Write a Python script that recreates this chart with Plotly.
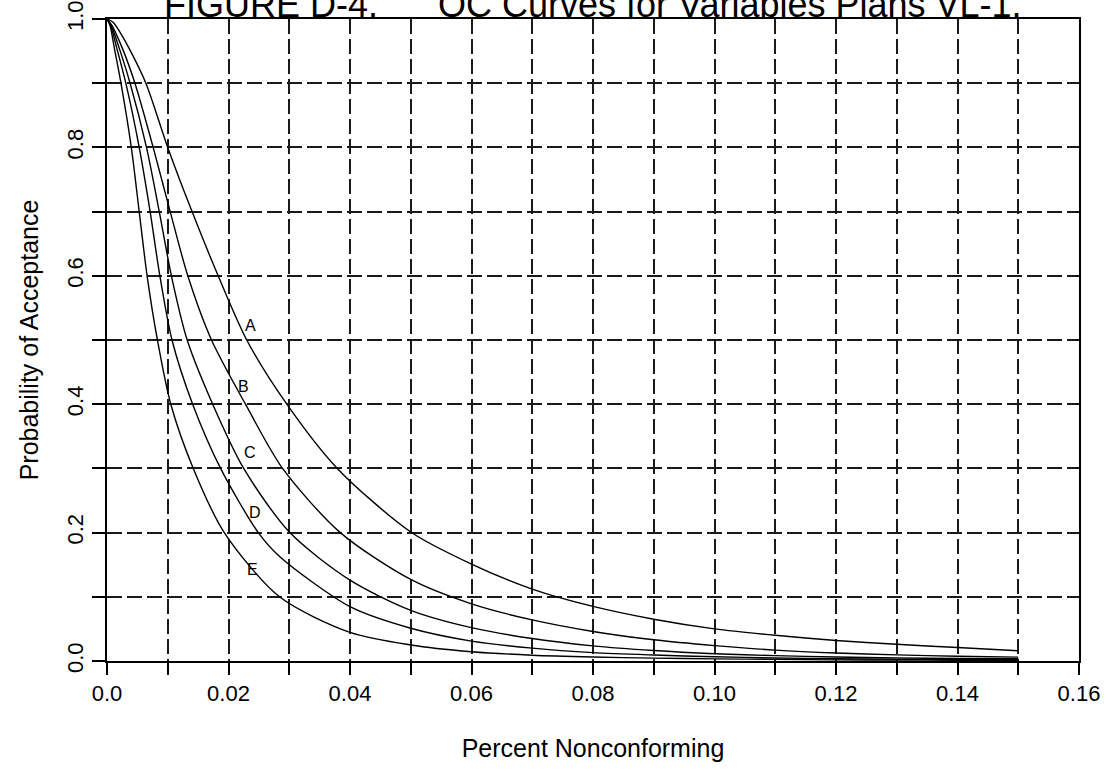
import plotly.graph_objects as go

# Operating characteristic curves: fraction nonconforming vs. probability of acceptance
pct_a = [0, 0.0010, 0.0021, 0.0036, 0.0064, 0.0100, 0.0140, 0.0183, 0.0230, 0.0296, 0.0379,
         0.05, 0.06, 0.07, 0.08, 0.09, 0.10, 0.11, 0.12, 0.13, 0.14, 0.15]
pa_a = [1.0, 0.995, 0.98, 0.955, 0.90, 0.80, 0.70, 0.60, 0.50, 0.40, 0.30,
        0.201, 0.151, 0.112, 0.085, 0.065, 0.050, 0.040, 0.032, 0.026, 0.021, 0.016]

pct_b = [0, 0.0008, 0.0025, 0.0046, 0.0076, 0.0104, 0.0133, 0.0172, 0.0228, 0.0289, 0.0384,
         0.05, 0.06, 0.07, 0.08, 0.09, 0.10, 0.11, 0.12, 0.13, 0.14, 0.15]
pa_b = [1.0, 0.99, 0.955, 0.90, 0.80, 0.70, 0.60, 0.50, 0.40, 0.30, 0.20,
        0.127, 0.089, 0.064, 0.046, 0.033, 0.024, 0.017, 0.0125, 0.0095, 0.0075, 0.006]

pct_c = [0, 0.0007, 0.0020, 0.0038, 0.0065, 0.0086, 0.0106, 0.0132, 0.0174, 0.0225, 0.0301,
         0.04, 0.05, 0.06, 0.07, 0.08, 0.09, 0.10, 0.11, 0.12, 0.13, 0.14, 0.15]
pa_c = [1.0, 0.99, 0.955, 0.90, 0.80, 0.70, 0.60, 0.50, 0.40, 0.30, 0.20,
        0.126, 0.079, 0.052, 0.035, 0.0235, 0.0163, 0.0114, 0.0083, 0.0062, 0.0048, 0.0040, 0.0034]

pct_d = [0, 0.0006, 0.0016, 0.0031, 0.0053, 0.0071, 0.0087, 0.0107, 0.0141, 0.0187, 0.0249, 0.0285,
         0.04, 0.05, 0.06, 0.07, 0.08, 0.09, 0.10, 0.11, 0.12, 0.13, 0.14, 0.15]
pa_d = [1.0, 0.99, 0.955, 0.90, 0.80, 0.70, 0.60, 0.50, 0.40, 0.30, 0.20, 0.162,
        0.0846, 0.051, 0.031, 0.020, 0.013, 0.0093, 0.0066, 0.0047, 0.0035, 0.0027, 0.0023, 0.0020]

pct_e = [0, 0.0005, 0.0012, 0.0023, 0.0040, 0.0053, 0.0066, 0.0083, 0.0105, 0.0142, 0.0193, 0.0284,
         0.04, 0.05, 0.06, 0.07, 0.08, 0.09, 0.10, 0.11, 0.12, 0.13, 0.14, 0.15]
pa_e = [1.0, 0.99, 0.955, 0.90, 0.80, 0.70, 0.60, 0.50, 0.40, 0.30, 0.20, 0.10,
        0.0446, 0.025, 0.0145, 0.009, 0.0062, 0.0045, 0.0033, 0.0025, 0.0018, 0.0014, 0.0012, 0.0010]

curve_names = ["A", "B", "C", "D", "E"]
curve_x = [pct_a, pct_b, pct_c, pct_d, pct_e]
curve_y = [pa_a, pa_b, pa_c, pa_d, pa_e]

x_tick_vals = [0.00, 0.01, 0.02, 0.03, 0.04, 0.05, 0.06, 0.07, 0.08,
               0.09, 0.10, 0.11, 0.12, 0.13, 0.14, 0.15, 0.16]
x_tick_text = ["0.0", "", "0.02", "", "0.04", "", "0.06", "", "0.08",
               "", "0.10", "", "0.12", "", "0.14", "", "0.16"]
y_tick_vals = [0.0, 0.1, 0.2, 0.3, 0.4, 0.5, 0.6, 0.7, 0.8, 0.9, 1.0]
y_tick_text = ["0.0", "", "0.2", "", "0.4", "", "0.6", "", "0.8", "", "1.0"]

title_text = "FIGURE D-4." + "\u00a0" * 6 + "OC Curves for Variables Plans VL-1."

FONT = "Liberation Sans, Arial, Helvetica, sans-serif"

fig = go.Figure()
for xs, ys in zip(curve_x, curve_y):
    fig.add_trace(go.Scatter(
        x=xs, y=ys, mode="lines",
        line=dict(color="black", width=1.4, shape="spline", smoothing=0.8),
        hoverinfo="skip", showlegend=False,
    ))

# curve letters placed beside each line
label_pos = {"A": (0.0237, 0.523), "B": (0.0224, 0.428), "C": (0.0235, 0.324),
             "D": (0.0243, 0.232), "E": (0.0239, 0.143)}
for name in curve_names:
    lx, ly = label_pos[name]
    fig.add_annotation(x=lx, y=ly, text=name, showarrow=False,
                       font=dict(size=16, color="black", family=FONT))

# heading sits at the very top edge of the page
fig.add_annotation(x=0.5, y=1, xref="paper", yref="paper", yanchor="bottom",
                   xanchor="center", yshift=-8, text=title_text, showarrow=False,
                   font=dict(size=36, color="black", family=FONT))

grid_style = dict(showgrid=True, gridcolor="#1a1a1a", gridwidth=1.5, griddash="15px,5px")
line_style = dict(showline=True, linecolor="black", linewidth=2, mirror=True,
                  ticks="outside", tickcolor="black", tickwidth=1.5, zeroline=False,
                  automargin=False)

fig.update_xaxes(range=[0, 0.16], tickvals=x_tick_vals, ticktext=x_tick_text,
                 ticklen=12, tickfont=dict(size=22, family=FONT, color="black"),
                 title=dict(text="Percent Nonconforming", standoff=34,
                            font=dict(size=25, family=FONT, color="black")),
                 **grid_style, **line_style)
fig.update_yaxes(range=[0, 1], tickvals=y_tick_vals, ticktext=y_tick_text,
                 ticklen=13, tickangle=-90, tickfont=dict(size=22, family=FONT, color="black"),
                 title=dict(text="Probability of Acceptance", standoff=17,
                            font=dict(size=25, family=FONT, color="black")),
                 **grid_style, **line_style)

fig.update_layout(width=1108, height=777, autosize=False,
                  margin=dict(l=107, r=29, t=19, b=116, pad=0),
                  plot_bgcolor="white", paper_bgcolor="white",
                  font=dict(family=FONT, color="black"))

fig.write_html("out.html")
